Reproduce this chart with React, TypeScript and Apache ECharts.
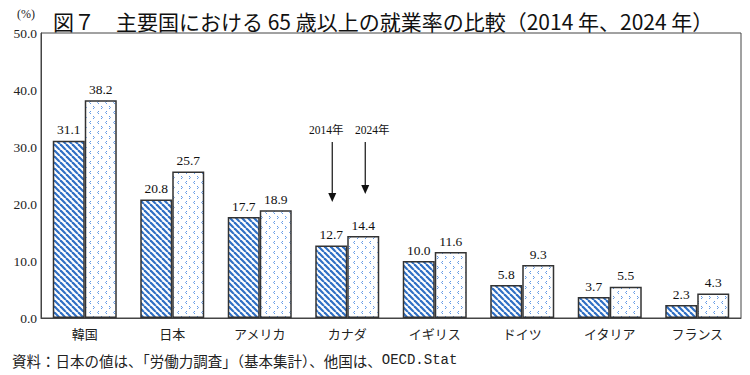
import React, { useEffect, useRef } from "react";
import * as echarts from "echarts";

const categories = ["韓国", "日本", "アメリカ", "カナダ", "イギリス", "ドイツ", "イタリア", "フランス"];
const values2014 = [31.1, 20.8, 17.7, 12.7, 10.0, 5.8, 3.7, 2.3];
const values2024 = [38.2, 25.7, 18.9, 14.4, 11.6, 9.3, 5.5, 4.3];
const seriesNames = ["2014年", "2024年"];
const yTicks = { min: 0, max: 50, interval: 10 };

const TITLE = "図７　主要国における 65 歳以上の就業率の比較（2014 年、2024 年）";
const SOURCE_JA = "資料：日本の値は、「労働力調査」（基本集計）、他国は、";
const SOURCE_EN = "OECD.Stat";

const SERIF = "'Liberation Serif', 'DejaVu Serif', 'Noto Sans CJK JP', serif";
const CJK = "'Noto Sans CJK JP', sans-serif";
const MONO = "'Liberation Mono', 'DejaVu Sans Mono', monospace";

function stripeCanvas(): HTMLCanvasElement {
  const c = document.createElement("canvas");
  c.width = 6;
  c.height = 6;
  const ctx = c.getContext("2d")!;
  ctx.fillStyle = "#ffffff";
  ctx.fillRect(0, 0, 6, 6);
  ctx.strokeStyle = "#2f6fc4";
  ctx.lineWidth = 2.2;
  for (const x0 of [-6, 0, 6]) {
    ctx.beginPath();
    ctx.moveTo(x0, 0);
    ctx.lineTo(x0 + 6, 6);
    ctx.stroke();
  }
  return c;
}

function dotCanvas(): HTMLCanvasElement {
  const c = document.createElement("canvas");
  c.width = 8;
  c.height = 10;
  const ctx = c.getContext("2d")!;
  ctx.fillStyle = "#ffffff";
  ctx.fillRect(0, 0, 8, 10);
  ctx.strokeStyle = "#5f98e6";
  ctx.lineWidth = 1;
  ctx.beginPath();
  ctx.moveTo(3, 1);
  ctx.lineTo(1.5, 2.5);
  ctx.lineTo(3, 4);
  ctx.stroke();
  ctx.beginPath();
  ctx.moveTo(5, 6);
  ctx.lineTo(6.5, 7.5);
  ctx.lineTo(5, 9);
  ctx.stroke();
  return c;
}

export default function App() {
  const ref = useRef<HTMLDivElement>(null);
  useEffect(() => {
    const chart = echarts.init(ref.current!, null, { renderer: "svg" });
    const stripe = { image: stripeCanvas(), repeat: "repeat" } as any;
    const dots = { image: dotCanvas(), repeat: "repeat" } as any;
    const labelCfg = {
      show: true,
      position: "top",
      distance: 4,
      color: "#111",
      fontFamily: SERIF,
      fontSize: 13.5,
      formatter: (p: any) => Number(p.value).toFixed(1),
    };
    chart.setOption({
      animation: false,
      backgroundColor: "#ffffff",
      title: {
        text: TITLE,
        left: 48,
        top: 5,
        textStyle: { fontFamily: CJK, fontSize: 21, fontWeight: "normal", color: "#111" },
      },
      grid: {
        left: 41,
        right: 9,
        top: 33,
        bottom: 57,
        show: true,
        borderColor: "#444",
        borderWidth: 1,
        containLabel: false,
      },
      xAxis: {
        type: "category",
        data: categories,
        axisLine: { show: true, lineStyle: { color: "#444" } },
        axisTick: { show: false },
        axisLabel: { fontFamily: CJK, fontSize: 13, color: "#222", margin: 9 },
      },
      yAxis: {
        type: "value",
        min: yTicks.min,
        max: yTicks.max,
        interval: yTicks.interval,
        axisLine: { show: true, lineStyle: { color: "#444" } },
        axisTick: { show: false },
        splitLine: { show: false },
        axisLabel: {
          fontFamily: SERIF,
          fontSize: 13.5,
          color: "#222",
          margin: 4,
          formatter: (v: number) => v.toFixed(1),
        },
      },
      series: [
        {
          name: seriesNames[0],
          type: "bar",
          data: values2014,
          barWidth: 32,
          barGap: "0%",
          itemStyle: { color: stripe, borderColor: "#333", borderWidth: 1.5 },
          label: labelCfg,
        },
        {
          name: seriesNames[1],
          type: "bar",
          data: values2024,
          barWidth: 32,
          barGap: "0%",
          itemStyle: { color: dots, borderColor: "#333", borderWidth: 1.5 },
          label: labelCfg,
        },
      ],
    });

    const cx = chart.convertToPixel({ xAxisIndex: 0 }, categories[3]) as number;
    const x1 = cx - 15;
    const x2 = cx + 18;
    const arrow = (x: number, y0: number, y1: number, label: string, tx: number) => [
      {
        type: "text",
        x: tx,
        y: y0 - 12,
        style: { text: label, fontFamily: SERIF, fontSize: 11.5, fill: "#111", align: "center", verticalAlign: "middle" },
      },
      { type: "line", shape: { x1: x, y1: y0, x2: x, y2: y1 - 8 }, style: { stroke: "#111", lineWidth: 1.2 } },
      {
        type: "polygon",
        shape: { points: [[x - 4, y1 - 9], [x + 4, y1 - 9], [x, y1]] },
        style: { fill: "#111" },
      },
    ];
    chart.setOption({
      graphic: [
        ...arrow(x1, 142, 202, seriesNames[0], x1 - 6),
        ...arrow(x2, 142, 194, seriesNames[1], x2 + 7),
        {
          type: "text",
          x: 17,
          y: 8,
          style: { text: "(%)", fontFamily: SERIF, fontSize: 12, fill: "#222" },
        },
        {
          type: "text",
          x: 12,
          y: 353,
          style: {
            text: `{a|${SOURCE_JA}}{b|${SOURCE_EN}}`,
            rich: {
              a: { fontFamily: CJK, fontSize: 14.5, fill: "#222", color: "#222" },
              b: { fontFamily: MONO, fontSize: 14, fill: "#222", color: "#222" },
            },
          },
        },
      ],
    });
    return () => chart.dispose();
  }, []);
  return <div ref={ref} style={{ width: 750, height: 375, position: "fixed", left: 0, top: 0 }} />;
}
